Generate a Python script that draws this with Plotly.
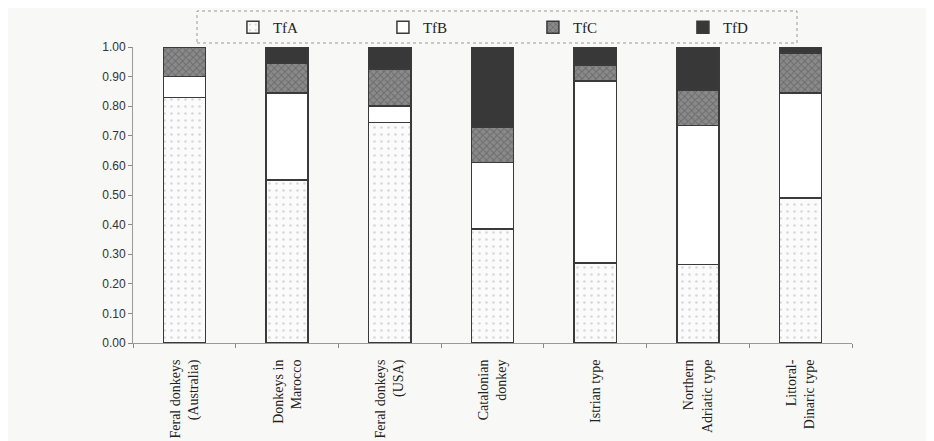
import plotly.graph_objects as go

categories = [
    "Feral donkeys<br>(Australia)",
    "Donkeys in<br>Marocco",
    "Feral donkeys<br>(USA)",
    "Catalonian<br>donkey",
    "Istrian type",
    "Northern<br>Adriatic type",
    "Littoral-<br>Dinaric type",
]
tfa = [0.83, 0.55, 0.745, 0.385, 0.27, 0.265, 0.49]
tfb = [0.07, 0.295, 0.055, 0.225, 0.615, 0.47, 0.355]
tfc = [0.10, 0.10, 0.125, 0.12, 0.055, 0.12, 0.135]
tfd = [0.00, 0.055, 0.075, 0.27, 0.06, 0.145, 0.02]
y_ticks = [0.0, 0.1, 0.2, 0.3, 0.4, 0.5, 0.6, 0.7, 0.8, 0.9, 1.0]

line = dict(color="#3a3a3a", width=1.5)
series = [
    ("TfA", tfa, dict(color="#fbfbfb", line=line,
                      pattern=dict(shape=".", fgcolor="#b5b5b5", bgcolor="#fbfbfb", size=7, solidity=0.12))),
    ("TfB", tfb, dict(color="#ffffff", line=line)),
    ("TfC", tfc, dict(color="#7a7a7a", line=line,
                      pattern=dict(shape="x", fgcolor="#4a4a4a", bgcolor="#8a8a8a", size=5, solidity=0.35))),
    ("TfD", tfd, dict(color="#383838", line=line)),
]

fig = go.Figure()
for name, vals, marker in series:
    fig.add_trace(go.Bar(x=categories, y=vals, name=name, marker=marker, width=0.41))

# page has an 8px body margin; margins compensate so plot area sits at x 133-852, y 47-343
fig.update_layout(
    barmode="stack",
    width=934, height=441,
    margin=dict(l=125, r=90, t=39, b=106, autoexpand=False),
    paper_bgcolor="#f8f8f6",
    plot_bgcolor="rgba(0,0,0,0)",
    font=dict(family="Liberation Serif", color="#222"),
    showlegend=True,
    legend=dict(
        orientation="h", x=0.139, y=0.993, xanchor="left", yanchor="top",
        yref="container",
        entrywidth=105, entrywidthmode="pixels",
        font=dict(family="Liberation Serif", size=15, color="#222"),
        bgcolor="rgba(0,0,0,0)", borderwidth=0, traceorder="normal",
    ),
)
fig.update_xaxes(
    tickangle=-90, tickfont=dict(family="Liberation Serif", size=14, color="#222"),
    ticklabelstandoff=10,
    showline=True, linecolor="#9a9a9a", linewidth=1,
    ticks="outside", tickson="boundaries", ticklen=4, tickcolor="#888",
    showgrid=False, range=[-0.5, 6.5], automargin=False,
)
fig.update_yaxes(
    range=[0, 1], tickvals=y_ticks, tickformat=".2f",
    tickfont=dict(family="Liberation Sans", size=12, color="#333"),
    showline=True, linecolor="#9a9a9a", linewidth=1,
    ticks="outside", ticklen=4, tickcolor="#888",
    showgrid=False, zeroline=False, automargin=False,
)
fig.add_shape(type="rect", xref="paper", yref="paper",
              x0=(197 - 133) / 719, x1=(797 - 133) / 719,
              y0=1 + (47 - 43) / 296, y1=1 + (47 - 11) / 296,
              line=dict(color="#999", width=1, dash="dot"))
fig.write_html("out.html")
